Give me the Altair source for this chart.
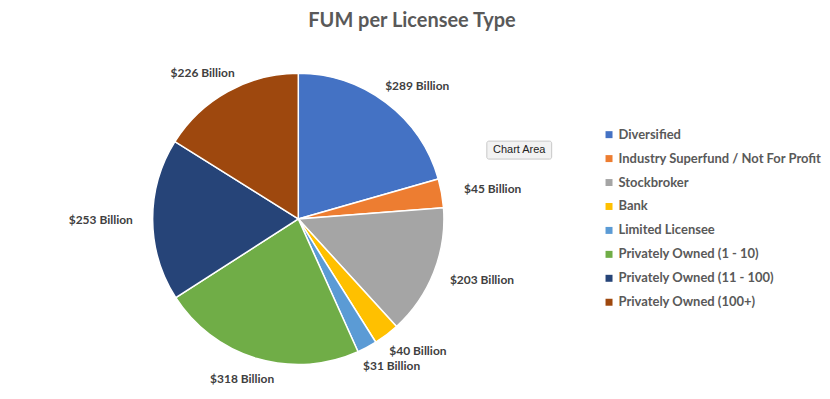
import altair as alt
import pandas as pd

categories = [
    "Diversified",
    "Industry Superfund / Not For Profit",
    "Stockbroker",
    "Bank",
    "Limited Licensee",
    "Privately Owned (1 - 10)",
    "Privately Owned (11 - 100)",
    "Privately Owned (100+)",
]
fum = [289, 45, 203, 40, 31, 318, 253, 226]
labels = [f"${v} Billion" for v in fum]
colors = ["#4472C4", "#ED7D31", "#A5A5A5", "#FFC000", "#5B9BD5", "#70AD47", "#264478", "#9E480E"]

df = pd.DataFrame({"Type": categories, "FUM": fum, "Label": labels, "idx": list(range(len(fum)))})

CX, CY = 291, 178
FONT = "Lato"

base = alt.Chart(df).transform_joinaggregate(total="sum(FUM)").encode(
    theta=alt.Theta("FUM:Q", stack=True),
    order=alt.Order("idx:Q"),
    x=alt.value(CX),
    y=alt.value(CY),
)

pie = base.mark_arc(outerRadius=146, stroke="white", strokeWidth=1.5).encode(
    color=alt.Color(
        "Type:N",
        scale=alt.Scale(domain=categories, range=colors),
        sort=categories,
        legend=alt.Legend(
            title=None,
            orient="none",
            legendX=596,
            legendY=87,
            symbolType="square",
            symbolSize=49,
            symbolStrokeWidth=0,
            labelFont=FONT,
            labelFontSize=13,
            labelFontWeight="bold",
            labelColor="#595959",
            rowPadding=10,
            labelOffset=3,
            labelLimit=400,
        ),
    )
)

text = base.mark_text(
    radius=160,
    font=FONT,
    fontSize=12,
    fontWeight="bold",
    color="#404040",
    dx=alt.expr("38*sin(PI*(datum.FUM_start+datum.FUM_end)/datum.total)"),
    dy=alt.expr("-7*cos(PI*(datum.FUM_start+datum.FUM_end)/datum.total)"),
).encode(text="Label:N")

tip_df = pd.DataFrame({"t": ["Chart Area"]})
tip_box = alt.Chart(tip_df).mark_rect(fill="#f2f2f2", stroke="#c8c8c8", strokeWidth=1, cornerRadius=2).encode(
    x=alt.value(480), x2=alt.value(545), y=alt.value(100), y2=alt.value(118)
)
tip_text = alt.Chart(tip_df).mark_text(font="Liberation Sans", fontSize=11, color="#222222").encode(
    x=alt.value(512.5), y=alt.value(109), text="t:N"
)

chart = (
    alt.layer(pie, text, tip_box, tip_text)
    .properties(
        width=810,
        height=336,
        padding={"top": 3, "left": 0, "right": 0, "bottom": 0},
        title=alt.TitleParams(
            "FUM per Licensee Type",
            font=FONT,
            fontSize=20,
            fontWeight="bold",
            color="#595959",
            anchor="middle",
            offset=10,
        ),
    )
    .configure_view(strokeWidth=0)
)

chart.save("out.html", embed_options={"renderer": "svg", "actions": False})
